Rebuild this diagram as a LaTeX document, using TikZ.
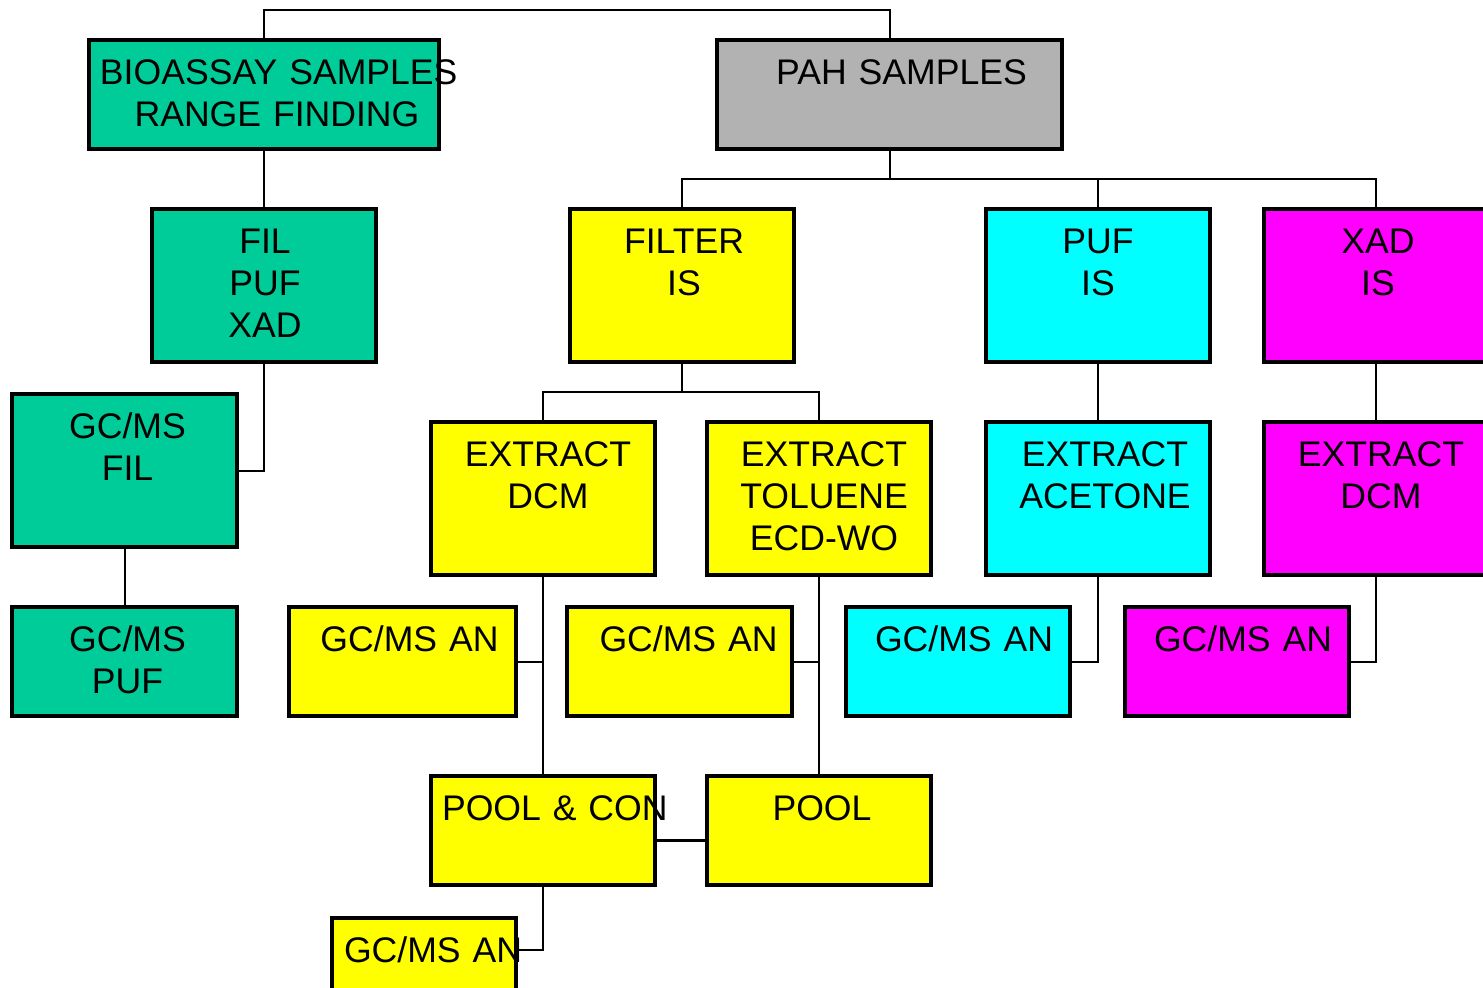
\documentclass[tikz,border=0pt]{standalone}
\usepackage{fontspec}
\setmainfont{Liberation Sans}
\usetikzlibrary{positioning}
\definecolor{bioteal}{RGB}{0,204,153}
\definecolor{pahgray}{RGB}{178,178,178}
\definecolor{filyellow}{RGB}{255,255,0}
\definecolor{pufcyan}{RGB}{0,255,255}
\definecolor{xadmagenta}{RGB}{255,0,255}
\begin{document}
\begin{tikzpicture}[x=0.5pt,y=-0.5pt,font=\fontsize{17.8pt}{21pt}\selectfont,box/.style={draw,line width=2pt,inner sep=0pt,outer sep=0pt,anchor=north west,align=center,text width=112pt,text height=22pt,text depth=54.5pt,nudge=6pt},short/.style={text depth=32.5pt},nudge/.style={execute at begin node={\leftskip=#1 plus 1fil\rightskip=0pt plus 1fil\parfillskip=0pt}},link/.style={line width=1pt}]
\useasboundingbox (0,0) rectangle (1483,987);
\node[box,fill=bioteal,text width=175pt,short,nudge=13pt] (bio) at (89,40) {\hspace*{-7.5pt}\mbox{BIOASSAY SAMPLES}\\\mbox{RANGE FINDING}};
\node[box,fill=pahgray,text width=172.5pt,short,nudge=12pt] (pah) at (717,40) {\mbox{PAH SAMPLES}};
\node[box,fill=bioteal,nudge=1pt] (fpx) at (152,209) {FIL\\PUF\\XAD};
\node[box,fill=bioteal,text width=112.5pt,nudge=3pt] (gcfil) at (12,394) {GC/MS\\FIL};
\node[box,fill=bioteal,text width=112.5pt,short,nudge=3pt] (gcpuf) at (12,607) {GC/MS\\PUF};
\node[box,fill=filyellow,nudge=2pt] (filter) at (570,209) {FILTER\\IS};
\node[box,fill=pufcyan,nudge=0pt] (puf) at (986,209) {PUF\\IS};
\node[box,fill=xadmagenta,nudge=2pt] (xad) at (1264,209) {XAD\\IS};
\node[box,fill=filyellow,nudge=5pt] (exdcm) at (431,422) {EXTRACT\\DCM};
\node[box,fill=filyellow,nudge=5pt] (extol) at (707,422) {EXTRACT\\TOLUENE\\ECD-WO};
\node[box,fill=pufcyan,nudge=7pt] (exace) at (986,422) {EXTRACT\\ACETONE};
\node[box,fill=xadmagenta,nudge=5pt] (exxad) at (1264,422) {EXTRACT\\DCM};
\node[box,fill=filyellow,text width=113.5pt,short,nudge=7pt] (an1) at (289,607) {\mbox{GC/MS AN}};
\node[box,fill=filyellow,text width=112.5pt,short,nudge=9pt] (an2) at (567,607) {\mbox{GC/MS AN}};
\node[box,fill=pufcyan,short,nudge=6pt] (an3) at (846,607) {\mbox{GC/MS AN}};
\node[box,fill=xadmagenta,short,nudge=6pt] (an4) at (1125,607) {\mbox{GC/MS AN}};
\node[box,fill=filyellow,short,nudge=5.5pt] (poolcon) at (431,776) {\mbox{POOL \& CON}};
\node[box,fill=filyellow,short,nudge=3pt] (pool) at (707,776) {POOL};
\node[box,fill=filyellow,text width=92pt,short,nudge=6pt] (an5) at (332,918) {\mbox{GC/MS AN}};
\draw[link] (bio.north) -- ++(0,-30) -| (pah.north);
\draw[link] (bio.south) -- (fpx.north);
\draw[link] (fpx.south) |- (gcfil.east);
\draw[link] (gcfil.south) -- (gcpuf.north);
\draw[link] (pah.south) -- ++(0,30) coordinate (pahbus);
\draw[link] (filter.north) |- (pahbus) -| (xad.north);
\draw[link] (puf.north) -- (puf.north |- pahbus);
\draw[link] (filter.south) -- ++(0,30) coordinate (filbus);
\draw[link] (exdcm.north) |- (filbus) -| (extol.north);
\draw[link] (exdcm.south) -- (poolcon.north);
\draw[link] (an1.east) -| (exdcm.south);
\draw[link] (extol.south) -- (pool.north);
\draw[link] (an2.east) -| (extol.south);
\draw[link] (puf.south) -- (exace.north);
\draw[link] (an3.east) -| (exace.south);
\draw[link] (xad.south) -- (exxad.north);
\draw[link] (an4.east) -| (exxad.south);
\draw[link,line width=1.5pt] ([yshift=-5pt]poolcon.east) -- ([yshift=-5pt]pool.west);
\draw[link] ([yshift=11.5pt]an5.east) -| (poolcon.south);
\end{tikzpicture}
\end{document}
